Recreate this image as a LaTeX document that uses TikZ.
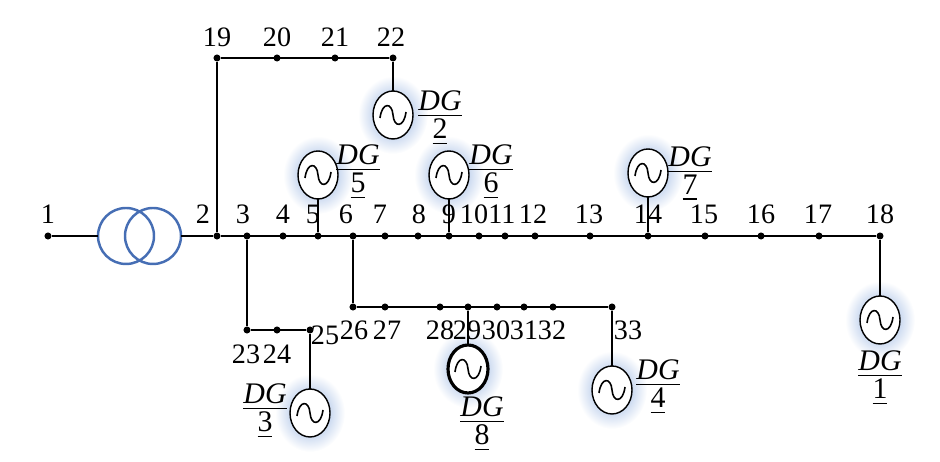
\documentclass[tikz,border=0pt]{standalone}
\usepackage{fontspec}
\setmainfont{Liberation Serif}
\definecolor{glowc}{RGB}{135,168,220}
\definecolor{trc}{RGB}{70,110,180}
\begin{document}
\begin{tikzpicture}[x=0.01cm,y=-0.01cm,
  bus/.style={circle,fill=black,inner sep=0pt,minimum size=2pt},
  lbl/.style={font=\fontsize{8}{9}\selectfont,inner sep=0pt},
  dgf/.style={font=\fontsize{8.5}{9}\selectfont,inner sep=0pt},
  ln/.style={line width=0.4pt}]
\useasboundingbox (0,0) rectangle (940,462);
\newcommand{\glow}[2]{\shade[inner color=glowc, outer color=white] (#1,#2) ellipse (35 and 39);}
\newcommand{\genr}[4][0.4pt]{%
  \glow{#3}{#4}
  \draw[line width=#1,fill=white] (#3,#4) ellipse (20 and 24);
  \draw[line width=0.45pt] (#3-13,#4+3) .. controls (#3-11,#4-13) and (#3-1,#4-13) .. (#3,#4) .. controls (#3+1,#4+13) and (#3+11,#4+13) .. (#3+13,#4-3);
  \coordinate (#2) at (#3,#4);}
\newcommand{\dglab}[3]{\node[dgf] at (#2,#3) {\underline{\textit{DG}}}; \node[dgf] at (#2,#3+28) {\underline{#1}};}
\genr{g2}{393}{115}
\genr{g5}{318}{175}
\genr{g6}{449}{175}
\genr{g7}{648}{173}
\genr{g1}{880}{320}
\genr{g4}{612}{390}
\genr[0.9pt]{g8}{468}{369}
\genr{g3}{310}{413}
\foreach \n/\x in {1/48,2/217,3/247,4/283,5/318,6/353,7/385,8/418,9/449,10/479,11/505,12/535,13/590,14/648,15/705,16/761,17/819,18/880}
  \node[bus] (b\n) at (\x,236) {};
\foreach \n/\x in {19/217,20/277,21/335,22/393} \node[bus] (b\n) at (\x,58) {};
\foreach \n/\x in {26/353,27/385,28/440,29/468,30/497,31/524,32/553,33/612} \node[bus] (b\n) at (\x,307) {};
\foreach \n/\x in {23/247,24/277,25/310} \node[bus] (b\n) at (\x,330) {};
\draw[trc,line width=0.7pt] (126,236) circle (28) (153,236) circle (28);
\coordinate (t1) at (98,236); \coordinate (t2) at (181,236);
\draw[ln] (b1)--(t1) (t2)--(b2)--(b18);
\draw[ln] (b2)--(b19)--(b22)--(393,91);
\draw[ln] (b5)--(318,199) (b9)--(449,199) (b14)--(648,197) (b18)--(880,296);
\draw[ln] (b6)--(b26)--(b33)--(612,366) (b29)--(468,345);
\draw[ln] (b3)--(b23)--(b25)--(310,389);
\foreach \n/\x in {1/48,2/203,3/243,4/283,5/313,6/346,7/380,8/419,9/449,10/474,11/502,12/533,13/589,14/648,15/704,16/761,17/818,18/880}
  \node[lbl] at (\x,214) {\n};
\foreach \n/\x in {19/217,20/277,21/335,22/391} \node[lbl] at (\x,37) {\n};
\foreach \n/\x in {26/354,27/387,28/440,29/467,30/496,31/524,32/552,33/628} \node[lbl] at (\x,330) {\n};
\node[lbl] at (246,354) {23}; \node[lbl] at (277,354) {24}; \node[lbl] at (325,335) {25};
\dglab{2}{440}{104}
\dglab{5}{358}{158}
\dglab{6}{491}{158}
\dglab{7}{690}{160}
\dglab{1}{880}{364}
\dglab{4}{658}{373}
\dglab{8}{482}{410}
\dglab{3}{265}{397}
\end{tikzpicture}
\end{document}
